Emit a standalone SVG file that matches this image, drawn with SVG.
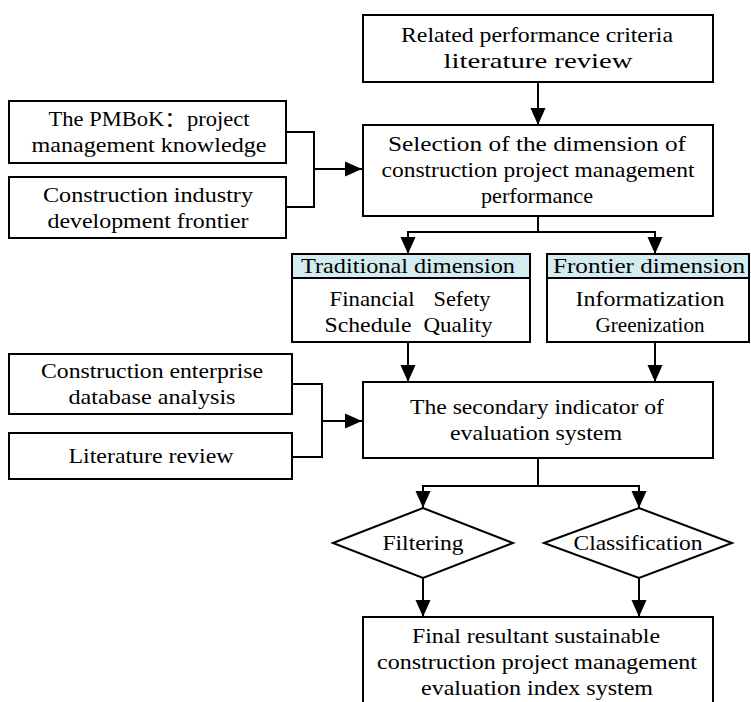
<svg xmlns="http://www.w3.org/2000/svg" width="751" height="702" viewBox="0 0 751 702">
<style>
.b{fill:#fff;stroke:#000;stroke-width:2}
.h{fill:#d4ecf0;stroke:#000;stroke-width:2}
.l{fill:none;stroke:#000;stroke-width:2}
text{font-family:"Liberation Serif","Noto Sans CJK SC",serif;font-size:21px;fill:#000;text-anchor:middle}
</style>
<defs>
<marker id="a" markerUnits="userSpaceOnUse" markerWidth="18" markerHeight="16" refX="17" refY="8" orient="auto">
<path d="M0,0.5 L17,8 L0,15.5 z" fill="#000"/>
</marker>
</defs>
<rect width="751" height="702" fill="#fff"/>
<g id="connectors">
<line class="l" x1="538" y1="82" x2="538" y2="125" marker-end="url(#a)"/>
<polyline class="l" points="286,132 314,132 314,207 286,207"/>
<line class="l" x1="314" y1="169" x2="362" y2="169" marker-end="url(#a)"/>
<line class="l" x1="538" y1="216" x2="538" y2="232"/>
<line class="l" x1="407" y1="232" x2="656" y2="232"/>
<line class="l" x1="408" y1="232" x2="408" y2="254" marker-end="url(#a)"/>
<line class="l" x1="655" y1="232" x2="655" y2="254" marker-end="url(#a)"/>
<line class="l" x1="408" y1="342" x2="408" y2="382" marker-end="url(#a)"/>
<line class="l" x1="655" y1="342" x2="655" y2="382" marker-end="url(#a)"/>
<polyline class="l" points="292,384 322,384 322,457 292,457"/>
<line class="l" x1="322" y1="421" x2="362" y2="421" marker-end="url(#a)"/>
<line class="l" x1="538" y1="458" x2="538" y2="486"/>
<line class="l" x1="422" y1="486" x2="640" y2="486"/>
<line class="l" x1="423" y1="486" x2="423" y2="508" marker-end="url(#a)"/>
<line class="l" x1="639" y1="486" x2="639" y2="508" marker-end="url(#a)"/>
<line class="l" x1="423" y1="578" x2="423" y2="617" marker-end="url(#a)"/>
<line class="l" x1="639" y1="578" x2="639" y2="617" marker-end="url(#a)"/>
</g>
<g id="n-related">
<rect class="b" x="363" y="15" width="350" height="67"/>
<text x="537" y="42" textLength="272" lengthAdjust="spacingAndGlyphs">Related performance criteria</text>
<text x="538" y="68" textLength="189" lengthAdjust="spacingAndGlyphs">literature review</text>
</g>
<g id="n-selection">
<rect class="b" x="363" y="125" width="350" height="91"/>
<text x="537" y="151" textLength="298" lengthAdjust="spacingAndGlyphs">Selection of the dimension of</text>
<text x="538" y="177" textLength="313" lengthAdjust="spacingAndGlyphs">construction project management</text>
<text x="537" y="203" textLength="112" lengthAdjust="spacingAndGlyphs">performance</text>
</g>
<g id="n-pmbok">
<rect class="b" x="9" y="101" width="277" height="62"/>
<text x="149" y="126" textLength="201" lengthAdjust="spacingAndGlyphs">The PMBoK：project</text>
<text x="149" y="152" textLength="235" lengthAdjust="spacingAndGlyphs">management knowledge</text>
</g>
<g id="n-industry">
<rect class="b" x="9" y="177" width="277" height="61"/>
<text x="148" y="202" textLength="210" lengthAdjust="spacingAndGlyphs">Construction industry</text>
<text x="148" y="228" textLength="201" lengthAdjust="spacingAndGlyphs">development frontier</text>
</g>
<g id="n-traditional">
<rect class="b" x="292" y="254" width="238" height="88"/>
<rect class="h" x="292" y="254" width="238" height="24"/>
<text x="408" y="273" textLength="214" lengthAdjust="spacingAndGlyphs">Traditional dimension</text>
<text x="372" y="306" textLength="85" lengthAdjust="spacingAndGlyphs">Financial</text>
<text x="462" y="306" textLength="57" lengthAdjust="spacingAndGlyphs">Sefety</text>
<text x="368" y="332" textLength="87" lengthAdjust="spacingAndGlyphs">Schedule</text>
<text x="458" y="332" textLength="69" lengthAdjust="spacingAndGlyphs">Quality</text>
</g>
<g id="n-frontier">
<rect class="b" x="547" y="254" width="202" height="88"/>
<rect class="h" x="547" y="254" width="202" height="24"/>
<text x="649" y="273" textLength="192" lengthAdjust="spacingAndGlyphs">Frontier dimension</text>
<text x="650" y="306" textLength="149" lengthAdjust="spacingAndGlyphs">Informatization</text>
<text x="650" y="332" textLength="109" lengthAdjust="spacingAndGlyphs">Greenization</text>
</g>
<g id="n-enterprise">
<rect class="b" x="9" y="354" width="283" height="60"/>
<text x="152" y="378" textLength="222" lengthAdjust="spacingAndGlyphs">Construction enterprise</text>
<text x="152" y="404" textLength="167" lengthAdjust="spacingAndGlyphs">database analysis</text>
</g>
<g id="n-literature">
<rect class="b" x="9" y="433" width="283" height="46"/>
<text x="151" y="463" textLength="165" lengthAdjust="spacingAndGlyphs">Literature review</text>
</g>
<g id="n-secondary">
<rect class="b" x="363" y="382" width="350" height="76"/>
<text x="537" y="414" textLength="254" lengthAdjust="spacingAndGlyphs">The secondary indicator of</text>
<text x="536" y="440" textLength="172" lengthAdjust="spacingAndGlyphs">evaluation system</text>
</g>
<g id="n-filtering">
<polygon class="b" points="333,543 423,508 513,543 423,578"/>
<text x="423" y="550" textLength="81" lengthAdjust="spacingAndGlyphs">Filtering</text>
</g>
<g id="n-classification">
<polygon class="b" points="544,543 639,508 732,543 639,578"/>
<text x="638" y="550" textLength="129" lengthAdjust="spacingAndGlyphs">Classification</text>
</g>
<g id="n-final">
<rect class="b" x="363" y="617" width="350" height="90"/>
<text x="536" y="643" textLength="248" lengthAdjust="spacingAndGlyphs">Final resultant sustainable</text>
<text x="537" y="669" textLength="320" lengthAdjust="spacingAndGlyphs">construction project management</text>
<text x="537" y="695" textLength="232" lengthAdjust="spacingAndGlyphs">evaluation index system</text>
</g>
</svg>
